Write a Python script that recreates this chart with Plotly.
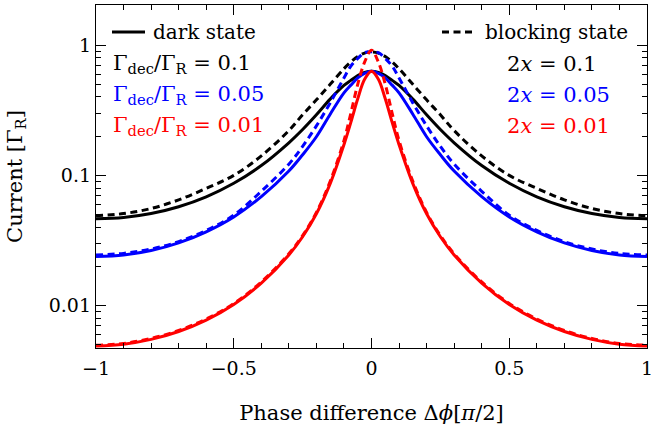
import plotly.graph_objects as go

# Phase difference (units of pi/2)
x_vals = [-1, -0.9, -0.8, -0.7, -0.6, -0.5, -0.4, -0.3, -0.25, -0.2, -0.15, -0.1, -0.075, -0.05, -0.025,
          0, 0.025, 0.05, 0.075, 0.1, 0.15, 0.2, 0.25, 0.3, 0.4, 0.5, 0.6, 0.7, 0.8, 0.9, 1]

# dark state (solid)
dark_01 = [0.0465, 0.0476, 0.051, 0.0575, 0.0685, 0.087, 0.119, 0.178, 0.225, 0.292, 0.385, 0.49, 0.536, 0.584, 0.617,
           0.63, 0.617, 0.584, 0.536, 0.49, 0.385, 0.292, 0.225, 0.178, 0.119, 0.087, 0.0685, 0.0575, 0.051, 0.0476, 0.0465]
dark_005 = [0.0238, 0.0245, 0.0265, 0.0303, 0.0369, 0.048, 0.0687, 0.108, 0.144, 0.198, 0.295, 0.43, 0.493, 0.56, 0.607,
            0.63, 0.607, 0.56, 0.493, 0.43, 0.295, 0.198, 0.144, 0.108, 0.0687, 0.048, 0.0369, 0.0303, 0.0265, 0.0245, 0.0238]
dark_001 = [0.0049, 0.00506, 0.00551, 0.00633, 0.00774, 0.0102, 0.0149, 0.0245, 0.0338, 0.0507, 0.0864, 0.172, 0.255, 0.387, 0.546,
            0.63, 0.546, 0.387, 0.255, 0.172, 0.0864, 0.0507, 0.0338, 0.0245, 0.0149, 0.0102, 0.00774, 0.00633, 0.00551, 0.00506, 0.0049]

# blocking state (dashed)
block_01 = [0.049, 0.0509, 0.0557, 0.0649, 0.0795, 0.100, 0.141, 0.221, 0.292, 0.380, 0.500, 0.659, 0.742, 0.817, 0.869,
            0.888, 0.869, 0.817, 0.742, 0.659, 0.500, 0.380, 0.292, 0.221, 0.141, 0.100, 0.0795, 0.0649, 0.0557, 0.0509, 0.049]
block_005 = [0.0245, 0.0252, 0.0272, 0.031, 0.0378, 0.0495, 0.0755, 0.122, 0.167, 0.24, 0.36, 0.56, 0.69, 0.79, 0.875,
             0.888, 0.875, 0.79, 0.69, 0.56, 0.36, 0.24, 0.167, 0.122, 0.0755, 0.0495, 0.0378, 0.031, 0.0272, 0.0252, 0.0245]
block_001 = [0.00497, 0.00513, 0.0056, 0.00645, 0.0079, 0.0104, 0.0152, 0.025, 0.0345, 0.052, 0.090, 0.185, 0.30, 0.50, 0.74,
             0.915, 0.74, 0.50, 0.30, 0.185, 0.090, 0.052, 0.0345, 0.025, 0.0152, 0.0104, 0.0079, 0.00645, 0.0056, 0.00513, 0.00497]

x_tickvals = [-1, -0.5, 0, 0.5, 1]
x_ticktext = ["\u22121", "\u22120.5", "0", "0.5", "1"]
y_tickvals = [0.01, 0.1, 1]
y_ticktext = ["0.01", "0.1", "1"]
y_minor = [0.005, 0.006, 0.007, 0.008, 0.009, 0.02, 0.03, 0.04, 0.05, 0.06, 0.07, 0.08, 0.09,
           0.2, 0.3, 0.4, 0.5, 0.6, 0.7, 0.8, 0.9, 2]

FONT = "DejaVu Serif"
BLACK, BLUE, RED = "#000000", "#0000ff", "#ff0000"
DASH = "7px,4.5px"

fig = go.Figure()
series = [
    (dark_01, BLACK, "solid"), (block_01, BLACK, DASH),
    (dark_005, BLUE, "solid"), (block_005, BLUE, DASH),
    (dark_001, RED, "solid"), (block_001, RED, DASH),
]
for ys, col, dash in series:
    fig.add_trace(go.Scatter(x=x_vals, y=ys, mode="lines",
                             line=dict(color=col, width=3, dash=dash, shape="spline", smoothing=1.0),
                             showlegend=False, hoverinfo="skip"))

axis_common = dict(showline=True, linecolor="black", linewidth=1.3, mirror="ticks",
                   ticks="inside", ticklen=10, tickwidth=1.1, tickcolor="black",
                   showgrid=False, zeroline=False, automargin=False, ticklabeloverflow="allow",
                   tickfont=dict(family=FONT, size=19, color="black"))

fig.update_layout(
    width=651, height=433,
    margin=dict(l=96, r=4, t=5, b=85, autoexpand=False),
    plot_bgcolor="white", paper_bgcolor="white",
    font=dict(family=FONT, color="black"),
    xaxis=dict(range=[-1, 1], tickmode="array", tickvals=x_tickvals, ticktext=x_ticktext,
               ticklabelstandoff=3,
               minor=dict(dtick=0.1, ticks="inside", ticklen=5, tickwidth=1.1, tickcolor="black", showgrid=False),
               title=dict(text="Phase difference \u0394<i>\u03d5</i>[<i>\u03c0</i>/2]", font=dict(family=FONT, size=21), standoff=27),
               **axis_common),
    yaxis=dict(type="log", range=[-2.325, 0.308], tickmode="array", tickvals=y_tickvals, ticktext=y_ticktext,
               minor=dict(tickmode="array", tickvals=y_minor, ticks="inside", ticklen=5, tickwidth=1.1, tickcolor="black", showgrid=False),
               title=dict(text="Current [\u0393<sub>R</sub>]", font=dict(family=FONT, size=21), standoff=20),
               **axis_common),
)

def px2x(px):
    return (px - 96) / 551.0

def py2y(py):
    return (348 - py) / 343.0

# legend samples
fig.add_shape(type="line", xref="paper", yref="paper", x0=px2x(112), x1=px2x(145), y0=py2y(32), y1=py2y(32),
              line=dict(color=BLACK, width=3))
fig.add_shape(type="line", xref="paper", yref="paper", x0=px2x(442), x1=px2x(474), y0=py2y(32), y1=py2y(32),
              line=dict(color=BLACK, width=3, dash=DASH))

def label(text, px, py, color, size=21):
    fig.add_annotation(xref="paper", yref="paper", x=px2x(px), y=py2y(py), text=text, showarrow=False,
                       xanchor="left", yanchor="middle", font=dict(family=FONT, size=size, color=color))

label("dark state", 151, 32, BLACK, 20)
label("blocking state", 483, 32, BLACK, 20)
label("\u0393<sub>dec</sub>/\u0393<sub>R</sub> = 0.1", 111, 64, BLACK)
label("\u0393<sub>dec</sub>/\u0393<sub>R</sub> = 0.05", 111, 95, BLUE)
label("\u0393<sub>dec</sub>/\u0393<sub>R</sub> = 0.01", 111, 126, RED)
label("2<i>x</i> = 0.1", 505, 64, BLACK)
label("2<i>x</i> = 0.05", 505, 95, BLUE)
label("2<i>x</i> = 0.01", 505, 126, RED)

fig.write_html("out.html", config={"displayModeBar": False},
               post_script="document.body.style.margin='0px';document.body.style.overflow='hidden';")
